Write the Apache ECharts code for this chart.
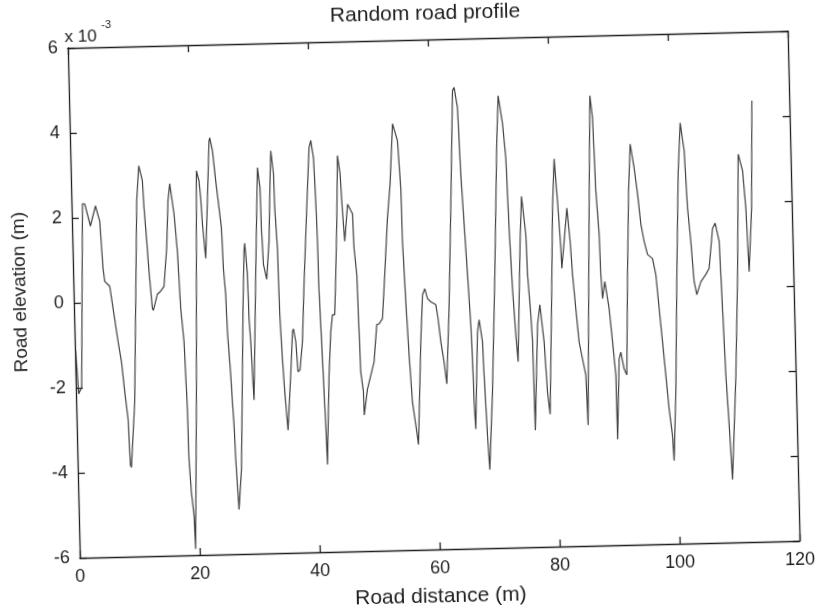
<!DOCTYPE html>
<html>
<head>
<meta charset="utf-8">
<script src="https://cdn.jsdelivr.net/npm/echarts@6/dist/echarts.min.js"></script>
<style>
  html, body { margin: 0; padding: 0; background: #ffffff; width: 822px; height: 613px; overflow: hidden; }
  #wrap { position: absolute; left: 0; top: 0; width: 822px; height: 613px;
          transform: rotate(-1.35deg); transform-origin: 411px 306.5px; }
  #chart { width: 822px; height: 613px; }
</style>
</head>
<body>
<div id="wrap"><div id="chart"></div></div>
<script>
// Road distance (m)
const distance = [
  0.12, 0.46, 0.98, 1.83, 2.21, 3.07, 3.98, 4.64, 5.0, 5.24,
  6.05, 6.52, 7.22, 7.71, 8.14, 8.58, 8.8, 8.96, 9.76, 10.88,
  11.35, 11.9, 12.07, 12.39, 12.65, 13.07, 13.23, 13.96, 14.52, 15.09,
  15.69, 16.09, 16.44, 17.04, 17.46, 17.79, 18.21, 18.51, 18.58, 18.85,
  19.2, 19.33, 20.04, 20.94, 21.34, 21.55, 21.74, 22.15, 22.66, 23.16,
  23.29, 23.69, 24.12, 24.57, 24.89, 25.06, 25.34, 25.48, 25.86, 26.04,
  26.22, 26.37, 26.55, 26.72, 27.28, 27.81, 28.17, 28.56, 28.71, 29.04,
  29.13, 29.33, 29.5, 29.65, 30.42, 30.85, 31.12, 31.48, 31.55, 31.75,
  32.24, 32.77, 33.17, 33.41, 33.77, 33.85, 34.14, 34.27, 34.54, 34.8,
  35.04, 35.2, 35.86, 36.32, 36.49, 36.83, 37.09, 37.43, 37.94, 38.43,
  39.18, 39.8, 40.11, 40.5, 40.71, 40.84, 40.91, 41.06, 41.21, 41.35,
  41.5, 41.63, 42.25, 42.7, 43.05, 43.43, 43.76, 44.12, 44.5, 44.87,
  45.12, 45.39, 45.55, 46.0, 46.25, 46.78, 46.91, 47.26, 47.42, 47.54,
  47.91, 47.95, 48.59, 49.8, 50.39, 50.78, 51.37, 51.92, 52.59, 53.16,
  53.8, 54.07, 54.56, 54.93, 55.0, 55.32, 55.66, 56.04, 56.5, 56.88,
  57.66, 58.13, 58.53, 58.94, 59.48, 60.31, 60.63, 61.0, 61.46, 61.83,
  62.5, 63.18, 63.93, 64.2, 64.69, 64.98, 65.34, 65.71, 66.06, 66.21,
  66.31, 66.48, 67.15, 67.46, 67.94, 68.08, 68.41, 68.66, 69.41, 70.26,
  71.11, 71.51, 72.13, 72.55, 72.82, 73.15, 73.52, 73.8, 74.6, 75.01,
  75.58, 75.71, 76.1, 76.28, 76.35, 76.4, 77.18, 77.64, 78.21, 78.58,
  78.93, 79.57, 80.13, 80.59, 80.99, 81.36, 81.45, 81.94, 82.52, 82.94,
  83.21, 83.62, 84.04, 84.54, 85.03, 85.22, 85.97, 86.79, 87.15, 87.42,
  87.8, 87.92, 88.11, 88.56, 89.17, 89.61, 90.03, 90.08, 90.64, 90.95,
  91.44, 91.86, 92.37, 92.87, 93.32, 93.89, 94.36, 94.79, 95.27, 95.79,
  96.6, 97.09, 97.51, 97.94, 98.36, 98.78, 99.24, 99.41, 99.96, 100.59,
  101.2, 101.73, 102.29, 102.63, 103.05, 103.44, 103.84, 104.56, 105.42, 105.99,
  106.72, 107.17, 107.77, 108.07, 108.36, 108.72, 109.07, 110.03, 110.71, 111.28,
  111.95, 112.35, 112.5, 112.65, 113.3, 113.77
];
// Road elevation, in units of 10^-3 m
const elevation = [
  -1.12, -2.14, -1.98, 2.33, 2.32, 1.80, 2.27, 1.91, 0.80, 0.49,
  0.37, -0.15, -0.93, -1.41, -2.12, -2.76, -3.85, -3.90, -2.36, 2.37,
  3.19, 2.84, 2.20, 1.42, 0.70, -0.17, -0.22, 0.16, 0.23, 0.34,
  1.24, 2.35, 2.75, 2.04, 1.16, -0.19, -0.97, -2.56, -3.74, -4.52,
  -5.07, -5.85, -2.40, 3.04, 2.80, 2.40, 1.79, 0.98, 2.33, 3.74,
  3.81, 3.51, 2.79, 2.15, 1.68, 0.73, 0.12, -0.76, -1.78, -2.42,
  -2.96, -3.77, -4.38, -4.95, -4.01, -1.78, -0.22, 1.12, 1.31, 0.58,
  -0.46, -1.01, -1.79, -2.38, 0.57, 2.13, 3.08, 2.60, 1.66, 0.80,
  0.45, 1.35, 2.76, 3.47, 2.93, 2.12, 1.17, -0.39, -1.43, -2.21,
  -2.75, -3.11, -1.81, -0.80, -0.73, -1.03, -1.74, -1.70, -1.04, 0.31,
  2.10, 3.52, 3.69, 3.28, 2.26, 1.32, 0.13, -0.65, -1.45, -2.23,
  -3.01, -3.94, -1.83, -0.82, -0.42, -0.42, 0.53, 1.71, 3.32, 2.89,
  2.01, 1.30, 1.30, 2.17, 2.20, 1.94, 1.13, 0.51, -0.83, -1.78,
  -2.25, -2.80, -2.19, -1.55, -0.68, -0.66, -0.54, 0.50, 1.82, 2.62,
  4.04, 4.06, 3.64, 2.52, 1.27, -0.15, -1.41, -2.52, -3.06, -3.52,
  -1.11, 0.00, 0.14, -0.09, -0.17, -0.24, -0.57, -1.12, -1.59, -2.11,
  -0.34, 2.02, 4.79, 4.86, 4.38, 2.82, 1.64, 0.45, -0.73, -1.54,
  -2.55, -3.19, -0.90, -0.62, -1.14, -1.92, -3.34, -4.15, -2.33, 0.44,
  3.58, 4.64, 3.98, 3.17, 1.52, 0.09, -0.99, -1.63, 1.20, 2.26,
  1.36, 0.42, -0.53, -1.17, -2.35, -3.25, -0.77, -0.30, -1.18, -2.36,
  -2.88, -0.40, 1.96, 3.12, 2.13, 1.01, 0.54, 1.18, 1.96, 1.17,
  0.39, -0.41, -1.20, -1.60, -1.98, -3.16, 0.69, 4.59, 4.07, 2.34,
  1.32, 0.38, -0.19, 0.21, -0.43, -1.21, -2.00, -3.51, -1.62, -1.46,
  -1.86, -2.00, 0.36, 2.32, 3.43, 2.86, 2.25, 1.54, 1.13, 0.82,
  0.72, 0.34, -0.46, -1.24, -2.03, -2.83, -3.45, -4.04, -2.43, 0.33,
  2.70, 3.90, 3.24, 1.89, 1.10, 0.16, -0.15, 0.15, 0.32, 0.46,
  1.40, 1.52, 1.09, -0.50, -2.06, -3.24, -4.52, -2.07, 0.30, 3.13,
  2.73, 1.85, 1.07, 0.36, 1.85, 4.38
];
const xTicks = { min: 0, max: 120, interval: 20 };
const yTicks = { min: -6, max: 6, interval: 2 };

const FONT = '"Liberation Sans", Arial, sans-serif';
const INK = '#1e1e1e';

const chart = echarts.init(document.getElementById('chart'), null, { renderer: 'canvas' });
const axisCommon = {
  axisLine: { show: true, onZero: false, lineStyle: { color: INK, width: 1.3 } },
  axisTick: { show: true, inside: true, length: 7, lineStyle: { color: INK, width: 1.3 } },
  splitLine: { show: false }
};
chart.setOption({
  backgroundColor: '#ffffff',
  animation: false,
  grid: { left: 74, top: 40, width: 720, height: 522, containLabel: false },
  graphic: [
    { type: 'text', x: 432, y: 4,
      style: { text: 'Random road profile', fontSize: 21, fontFamily: FONT, fill: INK, align: 'center', verticalAlign: 'top' } },
    { type: 'text', x: 71, y: 21,
      style: { text: 'x 10', fontSize: 17, fontFamily: FONT, fill: INK, align: 'left', verticalAlign: 'top' } },
    { type: 'text', x: 108, y: 12,
      style: { text: '-3', fontSize: 11, fontFamily: FONT, fill: INK, align: 'left', verticalAlign: 'top' } }
  ],
  xAxis: [
    Object.assign({
      type: 'value', position: 'bottom', min: xTicks.min, max: xTicks.max, interval: xTicks.interval,
      name: 'Road distance (m)', nameLocation: 'middle', nameGap: 37,
      nameTextStyle: { fontSize: 21, fontFamily: FONT, color: INK },
      axisLabel: { show: true, margin: 10, fontSize: 18, fontFamily: FONT, color: INK }
    }, axisCommon),
    Object.assign({
      type: 'value', position: 'top', min: xTicks.min, max: xTicks.max, interval: xTicks.interval,
      axisLabel: { show: false }
    }, axisCommon)
  ],
  yAxis: [
    Object.assign({
      type: 'value', position: 'left', min: yTicks.min, max: yTicks.max, interval: yTicks.interval,
      name: 'Road elevation (m)', nameLocation: 'middle', nameGap: 44,
      nameTextStyle: { fontSize: 19, fontFamily: FONT, color: INK, padding: [0, 0, 0, 24] },
      axisLabel: { show: true, margin: 10, fontSize: 18, fontFamily: FONT, color: INK }
    }, axisCommon),
    Object.assign({
      type: 'value', position: 'right', min: yTicks.min, max: yTicks.max, interval: yTicks.interval,
      axisLabel: { show: false }
    }, axisCommon)
  ],
  series: [{
    type: 'line',
    xAxisIndex: 0, yAxisIndex: 0,
    data: distance.map((d, i) => [d, elevation[i]]),
    showSymbol: false,
    symbol: 'none',
    lineStyle: { color: '#404040', width: 1.2 },
    clip: true
  }]
});
</script>
</body>
</html>
